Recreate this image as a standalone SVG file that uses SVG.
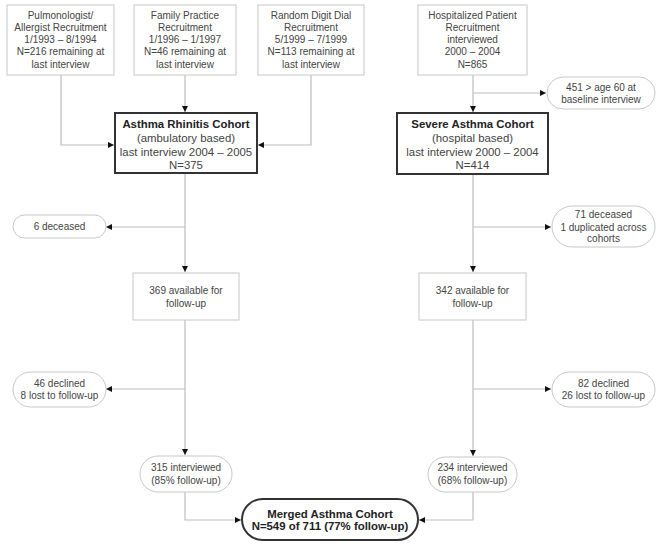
<svg xmlns="http://www.w3.org/2000/svg" width="662" height="547" viewBox="0 0 662 547">
<defs>
<marker id="ah" markerUnits="userSpaceOnUse" markerWidth="7" markerHeight="7" refX="6" refY="3" orient="auto">
<path d="M0,0 L6,3 L0,6 z" fill="#111"/>
</marker>
<style>
text{font-family:"Liberation Sans",Arial,sans-serif;text-anchor:middle;fill:#444;}
.s{font-size:10px;}
.m{font-size:11.4px;}
.b{font-weight:bold;fill:#222;}
.box{fill:#fff;stroke:#c8c8c8;stroke-width:1;}
.pill{fill:#fff;stroke:#c8c8c8;stroke-width:1;}
.heavy{fill:#fff;stroke:#333;stroke-width:2;}
.con path{fill:none;stroke:#bdbdbd;stroke-width:1.2;}
</style>
</defs>
<rect width="662" height="547" fill="#fff"/>

<g class="con">
<path d="M61,75 V145 H114" marker-end="url(#ah)"/>
<path d="M185,75 V112" marker-end="url(#ah)"/>
<path d="M311,75 V145 H258" marker-end="url(#ah)"/>
<path d="M185,173 V272" marker-end="url(#ah)"/>
<path d="M185,227 H106" marker-end="url(#ah)"/>
<path d="M185,320 V455" marker-end="url(#ah)"/>
<path d="M185,389 H106" marker-end="url(#ah)"/>
<path d="M185,492 V520 H241" marker-end="url(#ah)"/>
<path d="M473,75 V112" marker-end="url(#ah)"/>
<path d="M473,93 H546" marker-end="url(#ah)"/>
<path d="M473,174 V272" marker-end="url(#ah)"/>
<path d="M473,227 H551" marker-end="url(#ah)"/>
<path d="M473,320 V456" marker-end="url(#ah)"/>
<path d="M473,389 H551" marker-end="url(#ah)"/>
<path d="M473,492 V520 H419" marker-end="url(#ah)"/>
</g>

<g id="pulmonologist">
<rect class="box" x="7" y="5" width="107" height="70"/>
<text class="s" x="60.5" y="18.5">Pulmonologist/</text>
<text class="s" x="60.5" y="30.8">Allergist Recruitment</text>
<text class="s" x="60.5" y="43">1/1993 – 8/1994</text>
<text class="s" x="60.5" y="55.3">N=216 remaining at</text>
<text class="s" x="60.5" y="67.5">last interview</text>
</g>

<g id="family">
<rect class="box" x="134" y="5" width="102" height="70"/>
<text class="s" x="185" y="18.5">Family Practice</text>
<text class="s" x="185" y="30.8">Recruitment</text>
<text class="s" x="185" y="43">1/1996 – 1/1997</text>
<text class="s" x="185" y="55.3">N=46 remaining at</text>
<text class="s" x="185" y="67.5">last interview</text>
</g>

<g id="random">
<rect class="box" x="258" y="5" width="106" height="70"/>
<text class="s" x="311" y="18.5">Random Digit Dial</text>
<text class="s" x="311" y="30.8">Recruitment</text>
<text class="s" x="311" y="43">5/1999 – 7/1999</text>
<text class="s" x="311" y="55.3">N=113 remaining at</text>
<text class="s" x="311" y="67.5">last interview</text>
</g>

<g id="hospitalized">
<rect class="box" x="418" y="5" width="109" height="70"/>
<text class="s" x="472.5" y="18.5">Hospitalized Patient</text>
<text class="s" x="472.5" y="30.8">Recruitment</text>
<text class="s" x="472.5" y="43">interviewed</text>
<text class="s" x="472.5" y="55.3">2000 – 2004</text>
<text class="s" x="472.5" y="67.5">N=865</text>
</g>

<g id="age60">
<rect class="pill" x="547" y="77" width="108" height="32" rx="16"/>
<text class="s" x="601" y="91">451 &gt; age 60 at</text>
<text class="s" x="601" y="103">baseline interview</text>
</g>

<g id="arc">
<rect class="heavy" x="115" y="113" width="142" height="60"/>
<text class="m b" x="186" y="128">Asthma Rhinitis Cohort</text>
<text class="m" x="186" y="141.5">(ambulatory based)</text>
<text class="m" x="186" y="155.5">last interview 2004 – 2005</text>
<text class="m" x="186" y="169">N=375</text>
</g>

<g id="sac">
<rect class="heavy" x="397" y="113" width="151" height="61"/>
<text class="m b" x="472.5" y="128">Severe Asthma Cohort</text>
<text class="m" x="472.5" y="141.5">(hospital based)</text>
<text class="m" x="472.5" y="155.5">last interview 2000 – 2004</text>
<text class="m" x="472.5" y="169">N=414</text>
</g>

<g id="deceased6">
<rect class="pill" x="13" y="215" width="93" height="23" rx="11.5"/>
<text class="s" x="59.5" y="230">6 deceased</text>
</g>

<g id="deceased71">
<rect class="pill" x="552" y="206" width="103" height="41" rx="20.5"/>
<text class="s" x="603.5" y="217.5">71 deceased</text>
<text class="s" x="603.5" y="230.5">1 duplicated across</text>
<text class="s" x="603.5" y="242">cohorts</text>
</g>

<g id="avail369">
<rect class="box" x="133" y="273" width="106" height="47"/>
<text class="s" x="186" y="293.5">369 available for</text>
<text class="s" x="186" y="306.5">follow-up</text>
</g>

<g id="avail342">
<rect class="box" x="419" y="273" width="107" height="47"/>
<text class="s" x="472.5" y="293.5">342 available for</text>
<text class="s" x="472.5" y="306.5">follow-up</text>
</g>

<g id="declined46">
<rect class="pill" x="13" y="372" width="93" height="35" rx="17.5"/>
<text class="s" x="59.5" y="386.5">46 declined</text>
<text class="s" x="59.5" y="399">8 lost to follow-up</text>
</g>

<g id="declined82">
<rect class="pill" x="552" y="372" width="103" height="35" rx="17.5"/>
<text class="s" x="603.5" y="386.5">82 declined</text>
<text class="s" x="603.5" y="399">26 lost to follow-up</text>
</g>

<g id="int315">
<rect class="pill" x="140" y="456" width="92" height="36" rx="18"/>
<text class="s" x="186" y="470.5">315 interviewed</text>
<text class="s" x="186" y="483.5">(85% follow-up)</text>
</g>

<g id="int234">
<rect class="pill" x="428" y="457" width="89" height="35" rx="17.5"/>
<text class="s" x="472.5" y="471">234 interviewed</text>
<text class="s" x="472.5" y="484">(68% follow-up)</text>
</g>

<g id="merged">
<rect class="heavy" x="242" y="499" width="176" height="41" rx="20.5"/>
<text class="m b" x="330" y="517.5">Merged Asthma Cohort</text>
<text class="m b" x="330" y="530">N=549 of 711 (77% follow-up)</text>
</g>
</svg>
